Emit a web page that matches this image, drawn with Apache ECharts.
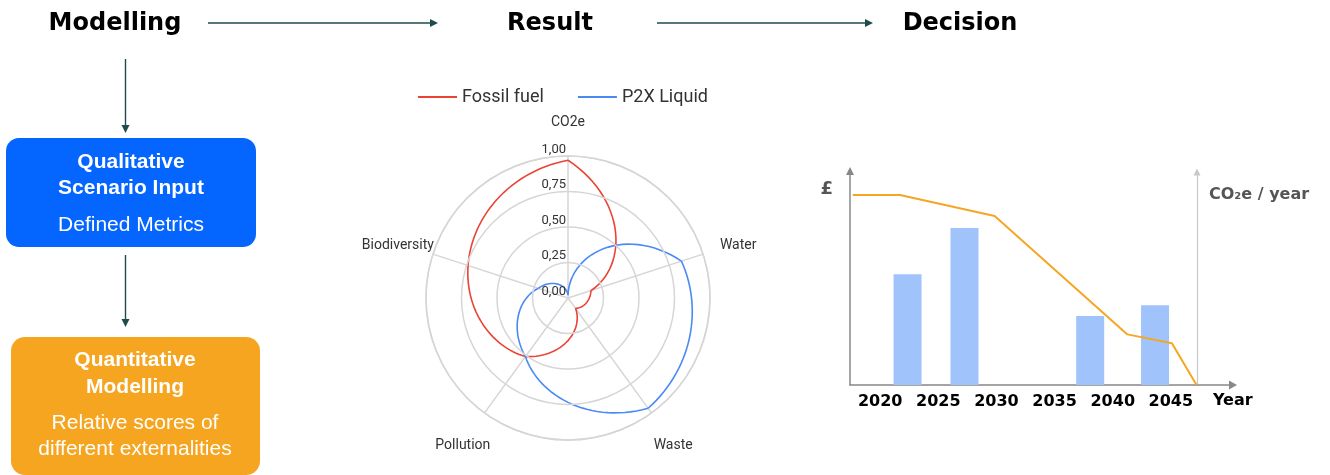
<!DOCTYPE html>
<html>
<head>
<meta charset="utf-8">
<title>Modelling - Result - Decision</title>
<script src="https://cdn.jsdelivr.net/npm/echarts@6/dist/echarts.min.js"></script>
<style>
  html, body { margin: 0; padding: 0; background: #fff; }
  #main { width: 1330px; height: 475px; }
</style>
</head>
<body>
<div id="main"></div>
<script>
// radar (Result)
var radarNames = ['CO2e', 'Water', 'Waste', 'Pollution', 'Biodiversity'];
var radarTicks = ['0,00', '0,25', '0,50', '0,75', '1,00'];
var fossilFuel = [0.97, 0.17, 0.09, 0.51, 0.74];
var p2xLiquid = [0.02, 0.84, 0.96, 0.51, 0.22];

// cost bars + CO2e line (Decision)
var yearLabels = [2020, 2025, 2030, 2035, 2040, 2045];
var costYears = [2022.35, 2027.25, 2038.06, 2043.64];
var costValues = [52.7, 74.8, 32.9, 38.0];
var co2Years = [2017.63, 2021.70, 2029.84, 2041.26, 2045.09, 2047.21];
var co2Values = [90.5, 90.5, 80.5, 24.1, 19.9, 0];

var arrowColor = '#1e4b4b';
var gridGray = '#d6d6d6';
var angleStep = 360 / radarNames.length;
var nameRadius = 1.26; // axis names sit a bit outside the 1,00 ring

// radar line: each segment is interpolated in polar space (radius and angle both linear)
function spiralSeries(name, values, color) {
    var pts = values.map(function (v, i) { return [v, i * angleStep]; });
    return {
        name: name,
        type: 'custom',
        coordinateSystem: 'polar',
        itemStyle: {color: color},
        silent: true,
        data: pts,
        renderItem: function (params, api) {
            var r0 = api.value(0), a0 = api.value(1);
            var r1 = pts[(params.dataIndex + 1) % pts.length][0];
            var a1 = a0 + angleStep;
            var points = [];
            for (var k = 0; k <= 30; k++) {
                var t = k / 30;
                points.push(api.coord([r0 + (r1 - r0) * t, a0 + (a1 - a0) * t]));
            }
            return {
                type: 'polyline',
                shape: {points: points},
                style: {stroke: color, lineWidth: 1.6, fill: null}
            };
        }
    };
}

function text(x, y, str, font, color) {
    return {
        type: 'text', x: x, y: y,
        style: {text: str, font: font, fill: color || '#000', align: 'center', verticalAlign: 'middle'}
    };
}

function arrow(x1, y1, x2, y2) {
    var dx = x2 - x1, dy = y2 - y1;
    var len = Math.sqrt(dx * dx + dy * dy);
    var ux = dx / len, uy = dy / len;
    var bx = x2 - ux * 8, by = y2 - uy * 8;
    return [
        {type: 'line', shape: {x1: x1, y1: y1, x2: bx, y2: by}, style: {stroke: arrowColor, lineWidth: 1.4}},
        {type: 'polygon', shape: {points: [[x2, y2], [bx - uy * 4, by + ux * 4], [bx + uy * 4, by - ux * 4]]},
            style: {fill: arrowColor}}
    ];
}

var headFont = 'bold 24px "DejaVu Sans", Verdana, sans-serif';
var boxBold = 'bold 21px "Liberation Sans", Arial, sans-serif';
var boxReg = '21px "Liberation Sans", Arial, sans-serif';

var elements = [
    text(115, 24, 'Modelling', headFont),
    text(550, 24, 'Result', headFont),
    text(960, 24, 'Decision', headFont),
    {type: 'rect', shape: {x: 6, y: 138, width: 250, height: 109, r: 13}, style: {fill: '#0566ff'}},
    text(131, 162, 'Qualitative', boxBold, '#fff'),
    text(131, 188, 'Scenario Input', boxBold, '#fff'),
    text(131, 225, 'Defined Metrics', boxReg, '#fff'),
    {type: 'rect', shape: {x: 11, y: 337, width: 249, height: 138, r: 14}, style: {fill: '#f6a520'}},
    text(135, 360, 'Quantitative', boxBold, '#fff'),
    text(135, 387, 'Modelling', boxBold, '#fff'),
    text(135, 423, 'Relative scores of', boxReg, '#fff'),
    text(135, 449, 'different externalities', boxReg, '#fff')
].concat(
    arrow(208, 23, 438, 23),
    arrow(657, 23, 873, 23),
    arrow(125.5, 59, 125.5, 133),
    arrow(125.5, 255, 125.5, 327)
);

var myChart = echarts.init(document.getElementById('main'));

var option = {
    animation: false,
    graphic: {elements: elements},
    legend: {
        data: ['Fossil fuel', 'P2X Liquid'],
        left: 413,
        top: 83,
        icon: 'rect',
        itemWidth: 39,
        itemHeight: 2,
        itemGap: 34,
        textStyle: {fontSize: 18, fontFamily: 'Roboto', color: '#333'}
    },
    polar: {center: [568, 298], radius: 142},
    angleAxis: {
        type: 'value',
        min: 0,
        max: 360,
        interval: angleStep,
        startAngle: 90,
        clockwise: true,
        axisLine: {show: true, lineStyle: {color: gridGray, width: 1.5}},
        axisTick: {show: false},
        splitLine: {show: true, lineStyle: {color: gridGray, width: 1.5}},
        axisLabel: {show: false}
    },
    radiusAxis: {
        type: 'value',
        min: 0,
        max: 1,
        interval: 0.25,
        z: 10,
        axisLine: {show: false},
        axisTick: {show: false},
        splitLine: {show: true, lineStyle: {color: gridGray, width: 1.5}},
        axisLabel: {
            margin: 2,
            align: 'right',
            verticalAlign: 'bottom',
            fontSize: 13,
            fontFamily: 'Roboto',
            color: '#333',
            formatter: function (v) { return radarTicks[Math.round(v * 4)]; }
        }
    },
    grid: {left: 850, right: 101, top: 175, bottom: 90},
    xAxis: {
        type: 'value',
        min: 2017.4,
        max: 2050,
        axisLine: {
            show: true,
            lineStyle: {color: '#888', width: 1.5},
            symbol: ['none', 'triangle'],
            symbolSize: [9, 8],
            symbolOffset: [0, 4]
        },
        axisTick: {show: false},
        splitLine: {show: false},
        axisLabel: {
            customValues: yearLabels,
            formatter: function (v) { return String(v); },
            margin: 9,
            color: '#000',
            fontWeight: 'bold',
            fontSize: 16,
            fontFamily: 'DejaVu Sans'
        },
        name: 'Year',
        nameLocation: 'end',
        nameGap: -16,
        nameTextStyle: {
            align: 'left', verticalAlign: 'top', padding: [8, 0, 0, 0],
            color: '#000', fontWeight: 'bold', fontSize: 16, fontFamily: 'DejaVu Sans'
        }
    },
    yAxis: [{
        type: 'value',
        min: 0,
        max: 100,
        axisLine: {
            show: true,
            lineStyle: {color: '#888', width: 1.5},
            symbol: ['none', 'triangle'],
            symbolSize: [8, 8],
            symbolOffset: [0, 4]
        },
        axisTick: {show: false},
        axisLabel: {show: false},
        splitLine: {show: false},
        name: '£',
        nameLocation: 'end',
        nameGap: -23,
        nameTextStyle: {
            align: 'right', verticalAlign: 'bottom', padding: [0, 17, 0, 0],
            color: '#555', fontWeight: 'bold', fontSize: 18, fontFamily: 'DejaVu Sans'
        }
    }, {
        type: 'value',
        min: 0,
        max: 100,
        position: 'right',
        offset: -32,
        axisLine: {
            show: true,
            lineStyle: {color: '#c8c8c8', width: 1.2},
            symbol: ['none', 'triangle'],
            symbolSize: [7, 7],
            symbolOffset: [0, 3]
        },
        axisTick: {show: false},
        axisLabel: {show: false},
        splitLine: {show: false},
        name: 'CO₂e / year',
        nameLocation: 'end',
        nameGap: -28,
        nameTextStyle: {
            align: 'left', verticalAlign: 'bottom', padding: [0, 0, 0, 12],
            color: '#555', fontWeight: 'bold', fontSize: 16, fontFamily: 'DejaVu Sans'
        }
    }],
    series: [
        spiralSeries('Fossil fuel', fossilFuel, '#ea4335'),
        spiralSeries('P2X Liquid', p2xLiquid, '#4a8af4'),
        {
            name: 'Axis names',
            type: 'custom',
            coordinateSystem: 'polar',
            silent: true,
            data: radarNames.map(function (n, i) { return {name: n, value: [1, i * angleStep]}; }),
            renderItem: function (params, api) {
                var p = api.coord([nameRadius, api.value(1)]);
                return {
                    type: 'text', x: p[0], y: p[1] + 3,
                    style: {
                        text: radarNames[params.dataIndex],
                        font: '14px Roboto', fill: '#333',
                        align: 'center', verticalAlign: 'middle'
                    }
                };
            }
        },
        {
            name: 'Cost',
            type: 'bar',
            barWidth: 28,
            itemStyle: {color: '#a0c3fc'},
            data: costYears.map(function (x, i) { return [x, costValues[i]]; })
        },
        {
            name: 'CO2e per year',
            type: 'line',
            symbol: 'none',
            z: 5,
            lineStyle: {color: '#f5a623', width: 2},
            data: co2Years.map(function (x, i) { return [x, co2Values[i]]; })
        }
    ]
};

myChart.setOption(option);
</script>
</body>
</html>
